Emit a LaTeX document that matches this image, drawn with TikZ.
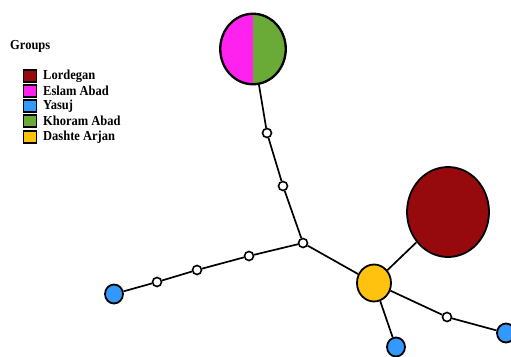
\documentclass[tikz,border=0pt]{standalone}
\usepackage{fontspec}
\setmainfont{Liberation Serif}
\usetikzlibrary{shapes.geometric}
\definecolor{cmaroon}{HTML}{960A0E}
\definecolor{cmag}{HTML}{FF22EE}
\definecolor{cgreen}{HTML}{6AAA36}
\definecolor{cblue}{HTML}{3399FF}
\definecolor{cyel}{HTML}{FFC20E}
\newcommand{\tallt}[1]{\scalebox{1}[1.1]{#1}}
\begin{document}
\begin{tikzpicture}[x=1pt,y=-1pt,
  hap/.style={ellipse,draw=black,line width=1.8pt,inner sep=0pt},
  med/.style={circle,draw=black,fill=white,line width=1.6pt,inner sep=0pt,minimum size=9pt},
  edge/.style={line width=1.7pt,draw=black},
  legbox/.style={draw=black,line width=1.2pt,minimum width=13pt,minimum height=12pt,inner sep=0pt},
  legtxt/.style={anchor=west,font=\bfseries\fontsize{12.5}{13}\selectfont,inner sep=0pt}]
\useasboundingbox (0,0) rectangle (511,356);
% nodes
\node[hap,minimum width=66pt,minimum height=71pt] (pie) at (253,49) {};
\node[med] (m1) at (267,133) {};
\node[med] (m2) at (283,186) {};
\node[med] (hub) at (303,243) {};
\node[med] (m3) at (249,256) {};
\node[med] (m4) at (197,270) {};
\node[med] (m5) at (157,282) {};
\node[hap,fill=cblue,minimum width=18pt,minimum height=19pt] (b1) at (114,294) {};
\node[hap,fill=cyel,minimum width=34pt,minimum height=37pt] (y) at (374,283) {};
\node[hap,fill=cmaroon,minimum width=82pt,minimum height=90pt] (lor) at (448,212) {};
\node[hap,fill=cblue,minimum width=18pt,minimum height=19pt] (b2) at (396,347) {};
\node[med] (m6) at (447,317) {};
\node[hap,fill=cblue,minimum width=18pt,minimum height=19pt] (b3) at (506,333) {};
% pie fill
\begin{scope}
\clip (253,49) ellipse (33 and 35.5);
\fill[cmag] (220,10) rectangle (253,90);
\fill[cgreen] (253,10) rectangle (290,90);
\end{scope}
\draw[line width=1.8pt] (253,49) ellipse (32.5 and 35);
% edges
\draw[edge] (pie) -- (m1);
\draw[edge] (m1) -- (m2);
\draw[edge] (m2) -- (hub);
\draw[edge] (hub) -- (m3);
\draw[edge] (m3) -- (m4);
\draw[edge] (m4) -- (m5);
\draw[edge] (m5) -- (b1);
\draw[edge] (hub) -- (y);
\draw[edge] (y) -- (lor);
\draw[edge] (y) -- (b2);
\draw[edge] (y) -- (m6);
\draw[edge] (m6) -- (b3);
% legend
\node[legtxt] (title) at (10,46) {\tallt{Groups}};
\node[legbox,fill=cmaroon] (l1) at (30,76) {};
\node[legbox,fill=cmag] (l2) at (30,91) {};
\node[legbox,fill=cblue] (l3) at (30,106) {};
\node[legbox,fill=cgreen] (l4) at (30,121) {};
\node[legbox,fill=cyel] (l5) at (30,137) {};
\node[legtxt] (t1) at (43,76) {\tallt{Lordegan}};
\node[legtxt] (t2) at (43,91) {\tallt{Eslam Abad}};
\node[legtxt] (t3) at (43,106) {\tallt{Yasuj}};
\node[legtxt] (t4) at (43,121) {\tallt{Khoram Abad}};
\node[legtxt] (t5) at (43,137) {\tallt{Dashte Arjan}};
\end{tikzpicture}
\end{document}
